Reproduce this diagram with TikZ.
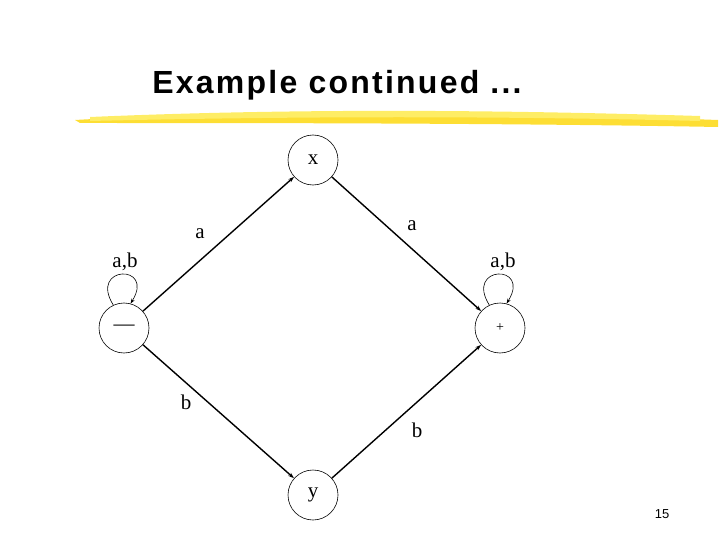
\documentclass[tikz,border=0pt]{standalone}
\usepackage{fontspec}
\setmainfont{Liberation Serif}
\newfontfamily\titlefont{Liberation Sans}
\newfontfamily\titlefontsp[LetterSpace=7]{Liberation Sans}
\usetikzlibrary{arrows.meta}
\begin{document}
\begin{tikzpicture}[x=1pt,y=-1pt,
  st/.style={circle,draw,line width=0.6pt,minimum size=50pt,inner sep=0pt,font=\fontsize{21}{21}\selectfont},
  edge/.style={line width=1.4pt,-{Stealth[length=6pt,width=4pt]}},
  lp/.style={line width=0.6pt,-{Stealth[length=5pt,width=3.5pt]}},
  lab/.style={font=\fontsize{21}{21}\selectfont}]
\useasboundingbox (0,0) rectangle (720,540);
\node[font=\titlefontsp\bfseries\fontsize{32}{32}\selectfont] (title) at (337,85) {Example continued ...};
\fill[yellow!75!orange!80] (75,120) .. controls (250,110) and (500,112) .. (718,120)
  -- (718,127) .. controls (500,123) and (250,123) .. (80,123) -- cycle;
\fill[yellow!85!orange!60] (90,117) .. controls (300,108) and (500,110) .. (700,116)
  -- (700,121) .. controls (500,116) and (300,116) .. (90,121) -- cycle;
\node[st] (x) at (313,160) {x};
\node[st] (m) at (124,328) {---};
\node[st] (p) at (500,328) {\fontsize{14}{14}\selectfont +};
\node[st] (y) at (313,495) {y};
\draw[edge] (m) -- (x);
\draw[edge] (x) -- (p);
\draw[edge] (m) -- (y);
\draw[edge] (y) -- (p);
\draw[lp] (m.115) .. controls +(-25,-40) and +(25,-40) .. (m.75);
\draw[lp] (p.115) .. controls +(-25,-40) and +(25,-40) .. (p.75);
\node[lab] (l1) at (200,234) {a};
\node[lab] (l2) at (412,226) {a};
\node[lab] (l3) at (186,402) {b};
\node[lab] (l4) at (417,430) {b};
\node[lab] (l5) at (125,262) {a,b};
\node[lab] (l6) at (503,262) {a,b};
\node[font=\titlefont\fontsize{13}{13}\selectfont] (pg) at (662,514) {15};
\end{tikzpicture}
\end{document}
